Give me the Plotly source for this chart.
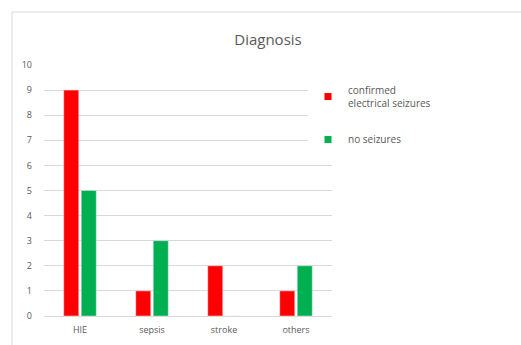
import plotly.graph_objects as go

categories = ["HIE", "sepsis", "stroke", "others"]
confirmed = [9, 1, 2, 1]
no_seizures = [5, 3, 0, 2]
series_names = ["confirmed<br>electrical seizures", "no seizures"]
colors = ["#FF0000", "#00B050"]

W, H = 521, 345
L, R, T, B = 44, 189, 65, 29
pw, ph = W - L - R, H - T - B

def px_x(x):
    return (x - L) / pw

def px_y(y):
    return 1 - (y - T) / ph

fig = go.Figure()
for vals, name, col in [(confirmed, series_names[0], colors[0]),
                        (no_seizures, series_names[1], colors[1])]:
    fig.add_trace(go.Bar(x=categories, y=vals, name=name, marker_color=col,
                         showlegend=False, hoverinfo="skip"))
for name, col, grp in [(series_names[0], colors[0], "a"),
                       (series_names[1], colors[1], "b")]:
    fig.add_trace(go.Scatter(x=[None], y=[None], mode="markers", name=name,
                             marker=dict(symbol="square", size=7, color=col),
                             legendgroup=grp, showlegend=True))

fig.update_layout(
    width=W, height=H,
    margin=dict(l=L, r=R, t=T, b=B, autoexpand=False),
    paper_bgcolor="white", plot_bgcolor="white",
    font=dict(family="Open Sans, Liberation Sans, sans-serif", size=9, color="#595959"),
    title=dict(text="Diagnosis", x=px_x(268), xref="paper", xanchor="center",
               y=1 - 40 / H, yanchor="middle",
               font=dict(size=15, color="#595959")),
    barmode="group", bargap=0.514, bargroupgap=0.14,
    showlegend=True,
    legend=dict(x=px_x(308), xanchor="left", y=px_y(77), yanchor="top",
                bgcolor="rgba(255,255,255,1)", font=dict(size=10, color="#595959"),
                tracegroupgap=19, itemwidth=30),
    xaxis=dict(showgrid=False, showline=True, linecolor="#d9d9d9", ticks="",
               tickfont=dict(size=9, color="#595959"), ticklabelstandoff=5),
    yaxis=dict(range=[0, 10], dtick=1, showgrid=True, gridcolor="#d9d9d9",
               zeroline=False, ticks="", tickfont=dict(size=9, color="#595959"),
               ticklabelstandoff=11),
    shapes=[dict(type="rect", xref="paper", yref="paper",
                 x0=px_x(12), x1=px_x(540), y0=px_y(360), y1=px_y(12),
                 line=dict(color="#d9d9d9", width=1), fillcolor="rgba(0,0,0,0)",
                 layer="below")],
)

fig.write_html("out.html", config={"displayModeBar": False},
               post_script="document.body.style.margin='0';document.body.style.overflow='hidden';")
